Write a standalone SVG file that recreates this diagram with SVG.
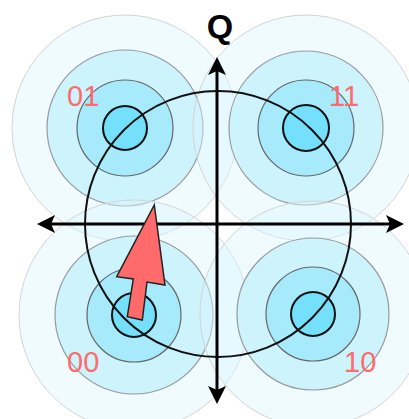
<svg xmlns="http://www.w3.org/2000/svg" width="409" height="419" viewBox="0 0 409 419">
<style>
.c0{fill:#dcf7ff;fill-opacity:0.45;stroke:#d4d4d4;stroke-width:1}
.c1{fill:#cdf3fd;stroke:#9a9a9a;stroke-width:1.2}
.c2{fill:#a6eafb;stroke:#666;stroke-width:1.2}
.c3{fill:#74e0fb;stroke:#111;stroke-width:2}
.lbl{font-family:"Liberation Sans",Arial,sans-serif;font-size:29px;fill:#ff6b6b}
.ax{stroke:#000;stroke-width:3;fill:none}
</style>
<defs>
<marker id="ah" viewBox="0 0 18 18" refX="8" refY="9" markerWidth="18" markerHeight="18" markerUnits="userSpaceOnUse" orient="auto-start-reverse">
<path d="M0,0 L18,9 L0,18 L4,9 Z" fill="#000"/>
</marker>
</defs>
<rect width="409" height="419" fill="#fff"/>
<g id="cluster-01">
<circle class="c0" cx="125" cy="128" r="113"/>
<circle class="c1" cx="125" cy="128" r="78"/>
<circle class="c2" cx="125" cy="128" r="48"/>
<circle class="c3" cx="125" cy="128" r="22"/>
<text class="lbl" x="67" y="106">01</text>
</g>
<g id="cluster-11">
<circle class="c0" cx="306" cy="128" r="113"/>
<circle class="c1" cx="306" cy="128" r="77"/>
<circle class="c2" cx="306" cy="128" r="48"/>
<circle class="c3" cx="306" cy="128" r="23"/>
<text class="lbl" x="329" y="106">11</text>
</g>
<g id="cluster-00">
<circle class="c0" cx="134" cy="315" r="115"/>
<circle class="c1" cx="134" cy="315" r="79"/>
<circle class="c2" cx="134" cy="315" r="47"/>
<circle class="c3" cx="134" cy="315" r="22"/>
<text class="lbl" x="67" y="372">00</text>
</g>
<g id="cluster-10">
<circle class="c0" cx="313" cy="314" r="113"/>
<circle class="c1" cx="313" cy="314" r="76"/>
<circle class="c2" cx="313" cy="314" r="47"/>
<circle class="c3" cx="313" cy="314" r="22"/>
<text class="lbl" x="344" y="372">10</text>
</g>
<g id="connectors">
<circle cx="218" cy="224" r="133" fill="none" stroke="#111" stroke-width="2"/>
<line class="ax" x1="217" y1="394" x2="217" y2="67" marker-start="url(#ah)" marker-end="url(#ah)"/>
<line class="ax" x1="47" y1="224" x2="394" y2="224" marker-start="url(#ah)" marker-end="url(#ah)"/>
</g>
<g id="Q-label">
<text x="220" y="38" font-family="Liberation Sans,Arial,sans-serif" font-size="34" font-weight="bold" text-anchor="middle" fill="#000">Q</text>
</g>
<g id="vector">
<polygon points="154.3,205 165,285 147,282 142.3,320 127.3,316.7 133.3,279 116.7,276.7" fill="#ff6b6b" stroke="#222" stroke-width="1.5" stroke-linejoin="miter"/>
</g>
</svg>
